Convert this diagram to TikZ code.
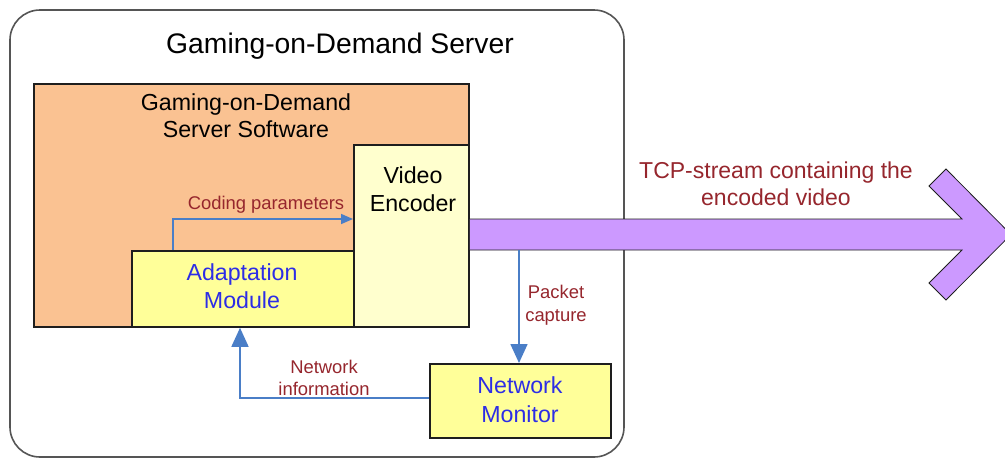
\documentclass[tikz,border=0pt]{standalone}
\usepackage{fontspec}
\setmainfont{Liberation Sans}
\usetikzlibrary{arrows.meta}

\definecolor{frame}{RGB}{85,85,85}
\definecolor{edge}{RGB}{30,30,30}
\definecolor{softorange}{RGB}{250,194,146}
\definecolor{modyellow}{RGB}{255,255,153}
\definecolor{encyellow}{RGB}{255,255,206}
\definecolor{streampurple}{RGB}{204,153,255}
\definecolor{linkblue}{RGB}{74,126,199}
\definecolor{labelred}{RGB}{150,38,45}
\definecolor{textblue}{RGB}{45,45,230}

\tikzset{
  box/.style={draw=edge, line width=1.8pt, anchor=north west, inner sep=0pt},
  bigtext/.style={anchor=base, inner sep=0pt, font=\fontsize{23.2}{27}\selectfont},
  smalltext/.style={anchor=base, inner sep=0pt, text=labelred, font=\fontsize{18.4}{21}\selectfont},
  tcptext/.style={anchor=base, inner sep=0pt, text=labelred, font=\fontsize{23}{27}\selectfont},
  link/.style={draw=linkblue, line width=1.6pt},
  bighead/.style={-{Triangle[length=19pt,width=17pt]}},
  smallhead/.style={-{Triangle[length=12pt,width=10pt]}},
}

\begin{document}
\begin{tikzpicture}[x=1pt,y=-1pt]
\clip (0,0) rectangle (1005,459);
\fill[white] (0,0) rectangle (1005,459);

% server enclosure
\draw[frame, line width=1.6pt, rounded corners=30pt] (10,10) rectangle (624,457);
\node[anchor=base, inner sep=0pt, font=\fontsize{28.3}{32}\selectfont] (title) at (340,53) {Gaming-on-Demand Server};

% software block and its modules
\node[box, fill=softorange, minimum width=435pt, minimum height=243pt] (sw) at (33,83) {};
\node[box, fill=modyellow, minimum width=222pt, minimum height=76pt] (adapt) at (131,250) {};
\node[box, fill=encyellow, minimum width=115pt, minimum height=182pt] (enc) at (353,144) {};
\node[box, fill=modyellow, minimum width=181pt, minimum height=74pt] (mon) at (429,363) {};

\node[bigtext] (swA) at (246,110) {Gaming-on-Demand};
\node[bigtext] (swB) at (246,137) {Server Software};
\node[bigtext] (encA) at (413,183) {Video};
\node[bigtext] (encB) at (413,211) {Encoder};
\node[bigtext, text=textblue] (adA) at (242,280) {Adaptation};
\node[bigtext, text=textblue] (adB) at (242,308) {Module};
\node[bigtext, text=textblue] (monA) at (520,393) {Network};
\node[bigtext, text=textblue] (monB) at (520,422) {Monitor};

% outgoing video stream
\coordinate (st) at (enc.east |- 0,219);
\coordinate (sb) at (enc.east |- 0,250);
\draw[edge, line width=0.8pt, fill=streampurple, line join=miter]
  (st) -- (962,219) -- (929,186) -- (946,169) -- (1011,234.5)
  -- (946,300) -- (929,283) -- (962,250) -- (sb);
\node[tcptext] (tcpA) at (776,178) {TCP-stream containing the};
\node[tcptext] (tcpB) at (776,205) {encoded video};

% control links
\draw[link, smallhead] ([xshift=42pt]adapt.north west) |- (enc.west |- 0,219);
\node[smalltext] (cp) at (266,209) {Coding parameters};

\coordinate (tap) at (519,250);
\draw[link, bighead] (tap) -- (tap |- mon.north);
\node[smalltext] (pcA) at (556,298) {Packet};
\node[smalltext] (pcB) at (556,321) {capture};

\draw[link, bighead] (mon.west |- 0,398) -| ([xshift=109pt]adapt.south west);
\node[smalltext] (niA) at (324,373) {Network};
\node[smalltext] (niB) at (324,395) {information};
\end{tikzpicture}
\end{document}
